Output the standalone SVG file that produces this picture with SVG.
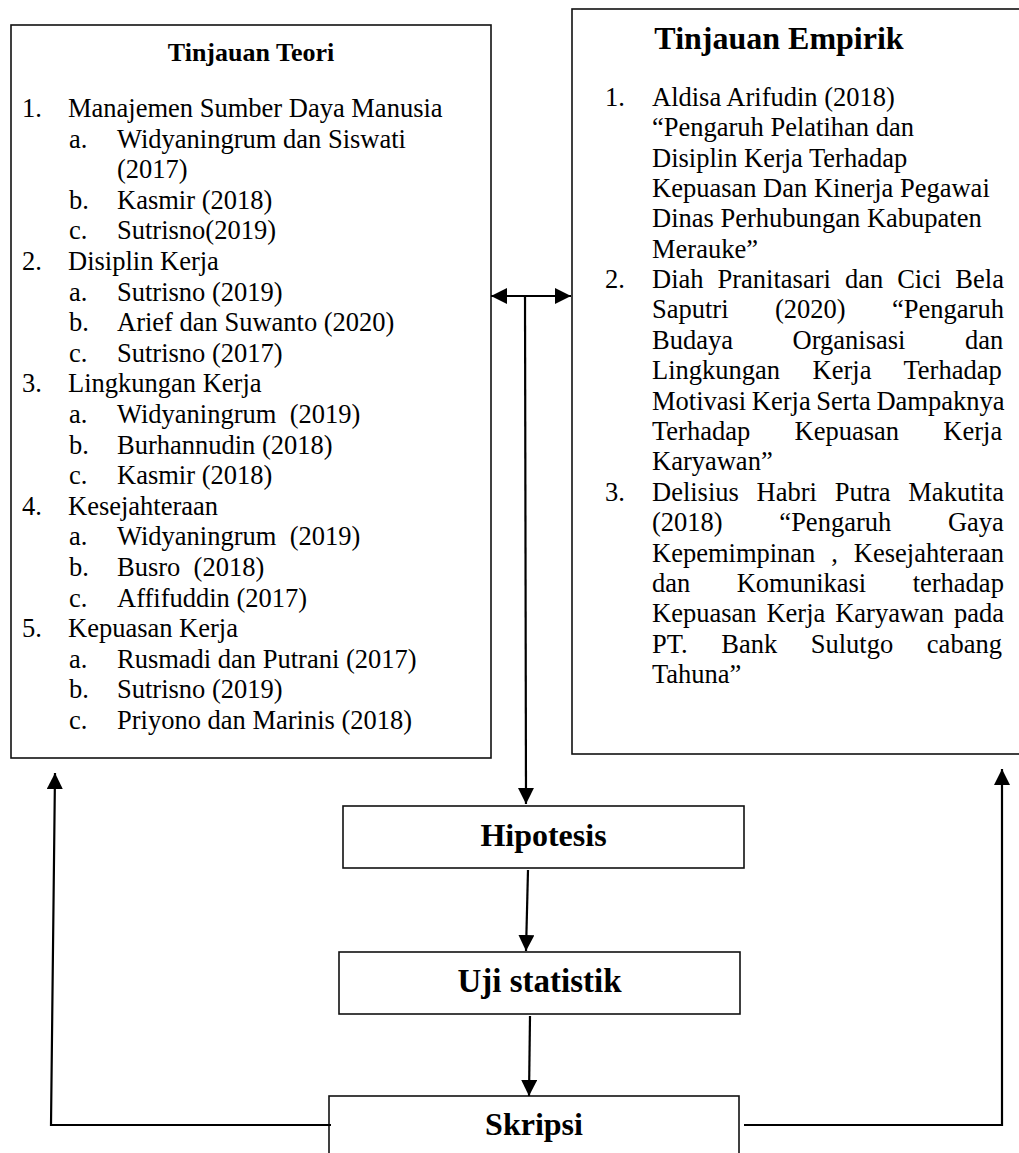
<svg xmlns="http://www.w3.org/2000/svg" width="1019" height="1153" viewBox="0 0 1019 1153">
  <style>
    .box { fill: #ffffff; stroke: #111111; stroke-width: 1.6; }
    .conn { fill: none; stroke: #000000; stroke-width: 2.2; }
    .t { font-family: "Liberation Serif", "Times New Roman", serif; font-size: 26.5px; fill: #000000; }
    .h { font-family: "Liberation Serif", "Times New Roman", serif; font-weight: bold; fill: #000000; text-anchor: middle; }
  </style>
  <defs>
    <marker id="arrow" markerUnits="userSpaceOnUse" markerWidth="16" markerHeight="16" viewBox="0 0 16 16" refX="16" refY="8" orient="auto-start-reverse">
      <path d="M0,0 L16,8 L0,16 Z" fill="#000000"/>
    </marker>
  </defs>

  <rect width="1019" height="1153" fill="#ffffff"/>

  <!-- Theory review -->
  <g id="tinjauan-teori">
    <rect class="box" x="11" y="25" width="480" height="733"/>
    <text class="h" x="251" y="61" font-size="26">Tinjauan Teori</text>
    <g class="t">
      <text x="22" y="117">1.</text><text x="68" y="117">Manajemen Sumber Daya Manusia</text>
      <text x="69" y="147.6">a.</text><text x="117" y="147.6">Widyaningrum dan Siswati</text>
      <text x="117" y="178.2">(2017)</text>
      <text x="69" y="208.8">b.</text><text x="117" y="208.8">Kasmir (2018)</text>
      <text x="69" y="239.4">c.</text><text x="117" y="239.4">Sutrisno(2019)</text>
      <text x="22" y="270">2.</text><text x="68" y="270">Disiplin Kerja</text>
      <text x="69" y="300.6">a.</text><text x="117" y="300.6">Sutrisno (2019)</text>
      <text x="69" y="331.2">b.</text><text x="117" y="331.2">Arief dan Suwanto (2020)</text>
      <text x="69" y="361.8">c.</text><text x="117" y="361.8">Sutrisno (2017)</text>
      <text x="22" y="392.4">3.</text><text x="68" y="392.4">Lingkungan Kerja</text>
      <text x="69" y="423">a.</text><text x="117" y="423">Widyaningrum&#160; (2019)</text>
      <text x="69" y="453.6">b.</text><text x="117" y="453.6">Burhannudin (2018)</text>
      <text x="69" y="484.2">c.</text><text x="117" y="484.2">Kasmir (2018)</text>
      <text x="22" y="514.8">4.</text><text x="68" y="514.8">Kesejahteraan</text>
      <text x="69" y="545.4">a.</text><text x="117" y="545.4">Widyaningrum&#160; (2019)</text>
      <text x="69" y="576">b.</text><text x="117" y="576">Busro&#160; (2018)</text>
      <text x="69" y="606.6">c.</text><text x="117" y="606.6">Affifuddin (2017)</text>
      <text x="22" y="637.2">5.</text><text x="68" y="637.2">Kepuasan Kerja</text>
      <text x="69" y="667.8">a.</text><text x="117" y="667.8">Rusmadi dan Putrani (2017)</text>
      <text x="69" y="698.4">b.</text><text x="117" y="698.4">Sutrisno (2019)</text>
      <text x="69" y="729">c.</text><text x="117" y="729">Priyono dan Marinis (2018)</text>
    </g>
  </g>

  <!-- Empirical review (box runs past the right edge) -->
  <g id="tinjauan-empirik">
    <rect class="box" x="572" y="9" width="470" height="745"/>
    <text class="h" x="779" y="49" font-size="32">Tinjauan Empirik</text>
    <g class="t">
      <text x="605" y="106">1.</text>
      <text x="652" y="106">Aldisa Arifudin (2018)</text>
      <text x="652" y="136.3">“Pengaruh Pelatihan dan</text>
      <text x="652" y="166.6">Disiplin Kerja Terhadap</text>
      <text x="652" y="196.9">Kepuasan Dan Kinerja Pegawai</text>
      <text x="652" y="227.2">Dinas Perhubungan Kabupaten</text>
      <text x="652" y="257.5">Merauke”</text>

      <text x="605" y="288">2.</text>
      <text x="652" y="288" word-spacing="7.4">Diah Pranitasari dan Cici Bela</text>
      <text x="652" y="318.4" word-spacing="39.8">Saputri (2020) “Pengaruh</text>
      <text x="652" y="348.8" word-spacing="53">Budaya Organisasi dan</text>
      <text x="652" y="379.2" word-spacing="25.9">Lingkungan Kerja Terhadap</text>
      <text x="652" y="409.6" word-spacing="-1">Motivasi Kerja Serta Dampaknya</text>
      <text x="652" y="440" word-spacing="37.7">Terhadap Kepuasan Kerja</text>
      <text x="652" y="470.4">Karyawan”</text>

      <text x="605" y="500.8">3.</text>
      <text x="652" y="500.8" word-spacing="11.1">Delisius Habri Putra Makutita</text>
      <text x="652" y="531.2" word-spacing="50.1">(2018) “Pengaruh Gaya</text>
      <text x="652" y="561.6" word-spacing="9.3">Kepemimpinan , Kesejahteraan</text>
      <text x="652" y="592" word-spacing="39.8">dan Komunikasi terhadap</text>
      <text x="652" y="622.4" word-spacing="3.3">Kepuasan Kerja Karyawan pada</text>
      <text x="652" y="652.8" word-spacing="27">PT. Bank Sulutgo cabang</text>
      <text x="652" y="683.2">Tahuna”</text>
    </g>
  </g>

  <g id="hipotesis">
    <rect class="box" x="343" y="806" width="401" height="62"/>
    <text class="h" x="543.5" y="846" font-size="32">Hipotesis</text>
  </g>

  <g id="uji-statistik">
    <rect class="box" x="339" y="952" width="401" height="62"/>
    <text class="h" x="539.5" y="992" font-size="33">Uji statistik</text>
  </g>

  <!-- bottom box is cut by the page edge -->
  <g id="skripsi">
    <rect class="box" x="329" y="1096" width="410" height="80"/>
    <text class="h" x="534" y="1135" font-size="32">Skripsi</text>
  </g>

  <g id="connectors">
    <line class="conn" x1="491" y1="296" x2="571" y2="296" marker-start="url(#arrow)" marker-end="url(#arrow)"/>
    <line class="conn" x1="525" y1="296" x2="526" y2="804" marker-end="url(#arrow)"/>
    <line class="conn" x1="528" y1="870" x2="526" y2="951" marker-end="url(#arrow)"/>
    <line class="conn" x1="530" y1="1016" x2="529" y2="1096" marker-end="url(#arrow)"/>
    <polyline class="conn" points="331,1125 51,1125 55,773" marker-end="url(#arrow)"/>
    <polyline class="conn" points="744,1125 1002,1125 1002,769" marker-end="url(#arrow)"/>
  </g>
</svg>
